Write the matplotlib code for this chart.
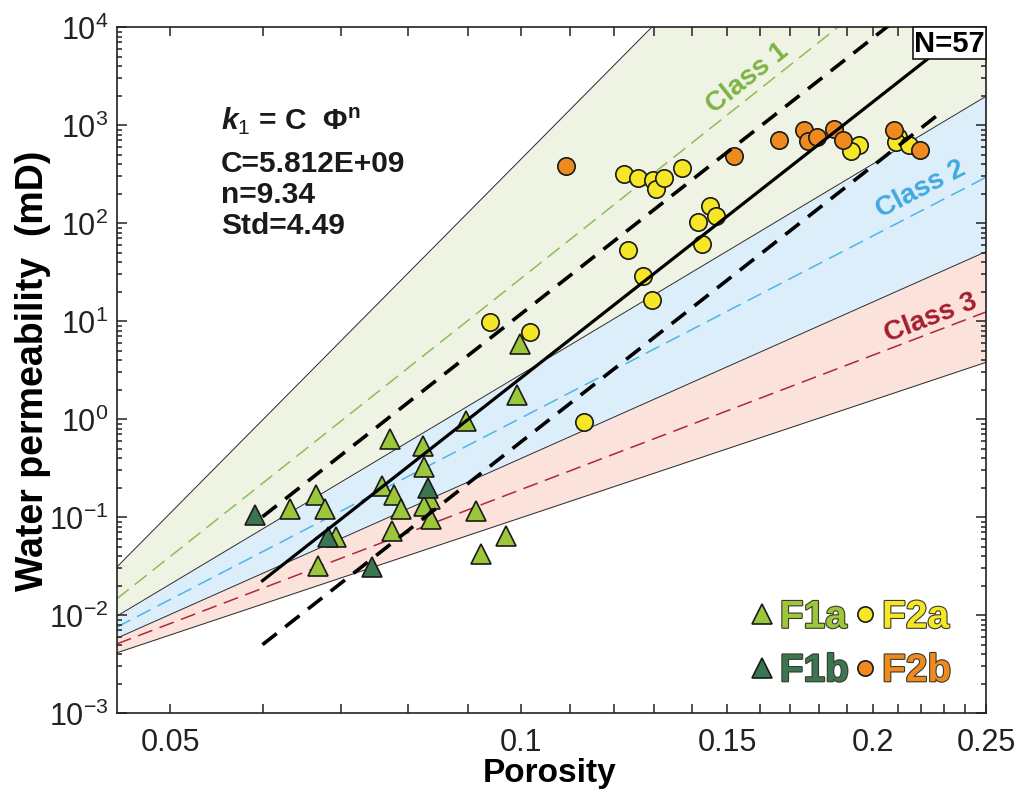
import matplotlib
matplotlib.use('Agg')
import numpy as np
import matplotlib.pyplot as plt
from matplotlib import font_manager as fm
import matplotlib.patheffects as pe
from matplotlib.lines import Line2D
from matplotlib.patches import Rectangle
from matplotlib.ticker import FixedLocator, FixedFormatter, LogLocator, LogFormatterMathtext, NullFormatter

names = {f.name for f in fm.fontManager.ttflist}
FAM = 'Liberation Sans Narrow' if 'Liberation Sans Narrow' in names else 'Liberation Sans'
plt.rcParams['font.family'] = [FAM, 'DejaVu Sans']
plt.rcParams['mathtext.fontset'] = 'custom'
plt.rcParams['mathtext.rm'] = FAM
plt.rcParams['mathtext.it'] = FAM + ':italic:bold'
plt.rcParams['mathtext.bf'] = FAM + ':bold'

# ---------------- data ----------------
F1A_PHI = [0.0633, 0.0667, 0.0679, 0.0669, 0.0694, 0.0759, 0.0772, 0.0774, 0.0777, 0.0789,
           0.0823, 0.0825, 0.0835, 0.0825, 0.0837, 0.0897, 0.0914, 0.0924, 0.0970, 0.0992, 0.0997]
F1A_K = [0.121, 0.169, 0.121, 0.0321, 0.0634, 0.207, 0.628, 0.0721, 0.169, 0.121,
         0.530, 0.323, 0.153, 0.131, 0.0960, 0.966, 0.115, 0.0422, 0.0640, 1.77, 5.85]
F1B_PHI = [0.0591, 0.0683, 0.0744, 0.0832]
F1B_K = [0.105, 0.0625, 0.0308, 0.197]
F2A_PHI = [0.1224, 0.1259, 0.1295, 0.1304, 0.1325, 0.1373, 0.1450, 0.1468, 0.1417, 0.1428,
           0.1234, 0.1272, 0.1294, 0.0940, 0.1017, 0.1131, 0.1946, 0.1914, 0.2102, 0.2093, 0.2148]
F2A_K = [317, 288, 275, 223, 288, 365, 150, 117, 103, 61.2,
         53.2, 29.1, 16.4, 9.87, 7.80, 0.929, 626, 540, 750, 676, 626]
F2B_PHI = [0.1092, 0.1521, 0.1661, 0.1746, 0.1760, 0.1790, 0.1853, 0.1884, 0.2086, 0.2197]
F2B_K = [385, 480, 704, 891, 692, 750, 912, 709, 897, 561]

# class boundary / centre lines: permeability at phi = 0.045 and phi = 0.25
PHI_EDGE = [0.045, 0.25]
CLASS1_UPPER = [0.0309, 2.75e7]
CLASS1_MID = [0.01466, 1.57e5]
CLASS12_BOUND = [0.00977, 1963]
CLASS2_MID = [0.00755, 293]
CLASS23_BOUND = [0.00582, 51.1]
CLASS3_MID = [0.00509, 12.4]
CLASS3_LOWER = [0.00413, 3.80]

# fit k1 = C * phi^n, with +/- Std factor
FIT_C = 5.812e9
FIT_N = 9.34
FIT_STD = 4.49
FIT_RANGE = [0.06, 0.23]
N_SAMPLES = 57

X_MAJOR = [0.05, 0.1, 0.15, 0.2, 0.25]
X_MAJOR_LABELS = ['0.05', '0.1', '0.15', '0.2', '0.25']
X_MINOR = [0.06, 0.07, 0.08, 0.09, 0.11, 0.12, 0.13, 0.14, 0.16, 0.17, 0.18, 0.19,
           0.21, 0.22, 0.23, 0.24]

# colours
C_F1A = '#9DC73B'
C_F1B = '#3B7551'
C_F2A = '#F6E726'
C_F2B = '#EF8B1E'
FILL1 = '#EEF3E3'
FILL2 = '#DCEEFA'
FILL3 = '#FBE2DA'
LINE1 = '#8DBE55'
LINE2 = '#4DB6E6'
LINE3 = '#B0283A'
TXT1 = '#7DB544'
TXT2 = '#3FA9DF'
TXT3 = '#A51D2D'

fig = plt.figure(figsize=(10.19, 8.03), dpi=100)
ax = fig.add_axes([0.1145, 0.1105, 0.8531, 0.8546])
ax.set_xscale('log')
ax.set_yscale('log')
ax.set_xlim(0.045, 0.25)
ax.set_ylim(1e-3, 1e4)

# bands
ax.fill_between(PHI_EDGE, CLASS12_BOUND, CLASS1_UPPER, color=FILL1, lw=0, zorder=0)
ax.fill_between(PHI_EDGE, CLASS23_BOUND, CLASS12_BOUND, color=FILL2, lw=0, zorder=0)
ax.fill_between(PHI_EDGE, CLASS3_LOWER, CLASS23_BOUND, color=FILL3, lw=0, zorder=0)
for b in (CLASS1_UPPER, CLASS12_BOUND, CLASS23_BOUND, CLASS3_LOWER):
    ax.plot(PHI_EDGE, b, color='#2a2a2a', lw=0.7, zorder=1)
for m, c in ((CLASS1_MID, LINE1), (CLASS2_MID, LINE2), (CLASS3_MID, LINE3)):
    ax.plot(PHI_EDGE, m, color=c, lw=1.1, ls=(0, (10, 5)), zorder=1)

# data
mk = dict(ls='none', mec='#1a1a1a', mew=1.2, zorder=4)
ax.plot(F1A_PHI, F1A_K, marker='^', ms=14, mfc=C_F1A, **mk)
ax.plot(F1B_PHI, F1B_K, marker='^', ms=14, mfc=C_F1B, **mk)
ax.plot(F2A_PHI, F2A_K, marker='o', ms=12.5, mfc=C_F2A, **mk)
ax.plot(F2B_PHI, F2B_K, marker='o', ms=12.5, mfc=C_F2B, **mk)

# fit lines
phi_fit = np.array(FIT_RANGE)
k_fit = FIT_C * phi_fit ** FIT_N
ax.plot(phi_fit, k_fit, color='k', lw=2.3, zorder=5)
ax.plot(phi_fit, k_fit * FIT_STD, color='k', lw=2.6, ls=(0, (5, 3)), zorder=5)
ax.plot(phi_fit, k_fit / FIT_STD, color='k', lw=2.6, ls=(0, (5, 3)), zorder=5)

# axes styling
for s in ax.spines.values():
    s.set_linewidth(1.2)
    s.set_color('#222222')
ax.xaxis.set_major_locator(FixedLocator(X_MAJOR))
ax.xaxis.set_major_formatter(FixedFormatter(X_MAJOR_LABELS))
ax.xaxis.set_minor_locator(FixedLocator(X_MINOR))
ax.xaxis.set_minor_formatter(NullFormatter())
ax.yaxis.set_major_locator(LogLocator(base=10, numticks=20))
ax.yaxis.set_major_formatter(LogFormatterMathtext())
ax.yaxis.set_minor_locator(LogLocator(base=10, subs=np.arange(2, 10), numticks=100))
ax.yaxis.set_minor_formatter(NullFormatter())
ax.tick_params(which='both', direction='in', top=True, right=True, width=1.1, colors='#222222')
ax.tick_params(axis='x', which='both', length=6.5, labelsize=22, pad=10)
ax.tick_params(axis='y', which='major', length=7, labelsize=22, pad=6)
ax.tick_params(axis='y', which='minor', length=3.5)

ax.set_xlabel('Porosity', fontsize=24, fontweight='bold')
ax.xaxis.set_label_coords(0.498, -0.064)
ax.set_ylabel('Water permeability  (mD)', fontsize=27, fontweight='bold')
ax.yaxis.set_label_coords(-0.076, 0.5)

# class labels rotated along centre lines
def line_angle(vals):
    p = ax.transData.transform(np.column_stack([PHI_EDGE, vals]))
    return np.degrees(np.arctan2(p[1, 1] - p[0, 1], p[1, 0] - p[0, 0]))

for txt, pos, vals, col in (('Class 1', (0.1563, 3090), CLASS1_MID, TXT1),
                            ('Class 2', (0.2199, 223), CLASS2_MID, TXT2),
                            ('Class 3', (0.2242, 11.0), CLASS3_MID, TXT3)):
    ax.text(pos[0], pos[1], txt, rotation=line_angle(vals), rotation_mode='anchor',
            ha='center', va='center', color=col, fontsize=20, fontweight='bold', zorder=3)

# equation text
W, H = 1019.0, 803.0
fig.text(221 / W, 1 - 130 / H, r'$\mathit{k}_{\mathit{1}}$ = C  $\mathbf{\Phi}^{\mathbf{n}}$',
         fontsize=21.5, fontweight='bold', va='baseline', color='#1a1a1a')
for i, t in enumerate(['C=%.3E' % FIT_C, 'n=%.2f' % FIT_N, 'Std=%.2f' % FIT_STD]):
    fig.text(221 / W, 1 - (172 + 31 * i) / H, t, fontsize=21.5, fontweight='bold',
             va='baseline', color='#1a1a1a')

# N box
ax.add_patch(Rectangle((0.916, 0.9534), 0.084, 0.0466, transform=ax.transAxes,
                       facecolor='white', edgecolor='#1a1a1a', lw=1.2, zorder=6, clip_on=False))
ax.text(0.958, 0.9767, 'N=%d' % N_SAMPLES, transform=ax.transAxes, ha='center', va='center',
        fontsize=21, fontweight='bold', zorder=7)

# legend
hd = [Line2D([], [], ls='none', marker='^', ms=14, mfc=C_F1A, mec='#1a1a1a', mew=1.2),
      Line2D([], [], ls='none', marker='^', ms=14, mfc=C_F1B, mec='#1a1a1a', mew=1.2),
      Line2D([], [], ls='none', marker='o', ms=11, mfc=C_F2A, mec='#1a1a1a', mew=1.2),
      Line2D([], [], ls='none', marker='o', ms=11, mfc=C_F2B, mec='#1a1a1a', mew=1.2)]
labs = ['F1a', 'F1b', 'F2a', 'F2b']
leg = ax.legend(hd, labs, ncol=2, loc='lower right', bbox_to_anchor=(0.96, 0.035),
                frameon=False, prop={'weight': 'bold', 'size': 28}, handletextpad=0.2,
                columnspacing=0.15, handlelength=0.5, labelspacing=0.45, borderaxespad=0,
                borderpad=0)
for t, c in zip(leg.get_texts(), [C_F1A, C_F1B, C_F2A, C_F2B]):
    t.set_color(c)
    t.set_path_effects([pe.Stroke(linewidth=1.6, foreground='#3a3a2a'), pe.Normal()])

fig.savefig('out.png', dpi=100)
